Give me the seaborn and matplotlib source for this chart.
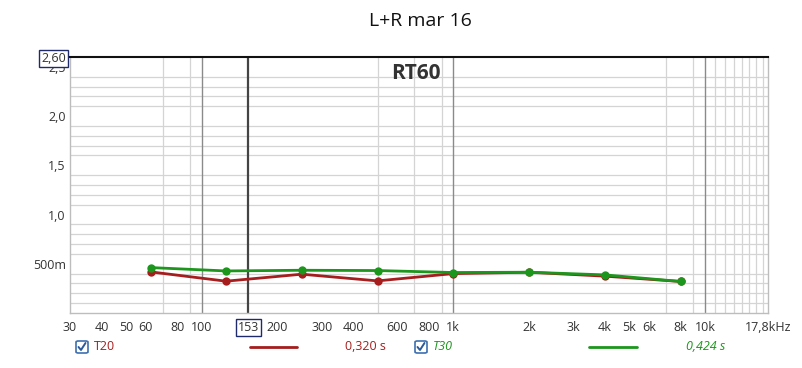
import matplotlib
matplotlib.use("Agg")
import matplotlib.pyplot as plt
from matplotlib.ticker import FixedLocator, NullFormatter
from matplotlib.lines import Line2D
from matplotlib.patches import FancyBboxPatch
import seaborn as sns
import pandas as pd
import numpy as np

# ---- data ----
freqs = [63, 125, 250, 500, 1000, 2000, 4000, 8000]
t20 = [0.417, 0.323, 0.394, 0.326, 0.400, 0.414, 0.374, 0.320]
t30 = [0.461, 0.427, 0.434, 0.431, 0.411, 0.414, 0.387, 0.320]
series_names = ["T20", "T30"]
series_colors = ["#a51d1d", "#1c961c"]
xtick_vals = [30, 40, 50, 60, 80, 100, 153, 200, 300, 400, 600, 800, 1000,
              2000, 3000, 4000, 5000, 6000, 8000, 10000, 17800]
xtick_labels = ["30", "40", "50", "60", "80", "100", "153", "200", "300", "400",
                "600", "800", "1k", "2k", "3k", "4k", "5k", "6k", "8k", "10k", "17,8kHz"]
ytick_vals = [0.5, 1.0, 1.5, 2.0, 2.5, 2.6]
ytick_labels = ["500m", "1,0", "1,5", "2,0", "2,5", "2,60"]
cursor_freq = 153
legend_values = ["0,320 s", "0,424 s"]

df = pd.DataFrame({
    "freq": freqs * 2,
    "rt": t20 + t30,
    "series": ["T20"] * len(freqs) + ["T30"] * len(freqs),
})

sns.set_theme(style="white")
plt.rcParams["font.family"] = ["Open Sans", "DejaVu Sans"]

fig = plt.figure(figsize=(8.03, 3.68), dpi=100)
ax = fig.add_axes([0.0872, 0.1495, 0.8692, 0.6956])

# grid lines positions
grid_x = []
for dec in [10, 100, 1000, 10000]:
    for m in range(1, 10):
        v = dec * m
        if 30 <= v <= 17800:
            grid_x.append(v)
grid_x += [11000, 12000, 13000, 14000, 15000, 16000, 17000]
grid_y = [round(0.1 * i, 1) for i in range(1, 26)]

ax.set_xscale("log")
ax.set_xlim(30, 17800)
ax.set_ylim(0, 2.6)
ax.xaxis.set_minor_locator(FixedLocator(grid_x))
ax.xaxis.set_minor_formatter(NullFormatter())
ax.yaxis.set_minor_locator(FixedLocator(grid_y))
ax.grid(which="minor", color="#d4d4d4", lw=0.9)
ax.grid(which="major", visible=False)
for v in [100, 1000, 10000]:
    ax.axvline(v, color="#8a8a8a", lw=1.0, zorder=1)

sns.lineplot(data=df, x="freq", y="rt", hue="series", palette=series_colors,
             marker="o", markersize=6, markeredgewidth=0, lw=2, ax=ax,
             legend=False, zorder=3)

ax.axvline(cursor_freq, color="#444444", lw=1.6, zorder=2)

ax.set_xticks(xtick_vals)
ax.set_xticklabels(xtick_labels)
ax.set_yticks(ytick_vals)
ax.set_yticklabels(ytick_labels)
ax.tick_params(which="both", length=0, labelsize=9, labelcolor="#333333")
ax.tick_params(axis="x", pad=6)
ax.tick_params(axis="y", pad=3)
ax.set_xlabel("")
ax.set_ylabel("")

for lab in ax.get_xticklabels():
    if lab.get_text() == "153":
        lab.set_bbox(dict(boxstyle="square,pad=0.15", fc="white", ec="#1f2a6b", lw=1))
for lab in ax.get_yticklabels():
    if lab.get_text() == "2,60":
        lab.set_bbox(dict(boxstyle="square,pad=0.15", fc="white", ec="#1f2a6b", lw=1))
        lab.set_zorder(10)

for s in ["left", "right", "bottom"]:
    ax.spines[s].set_color("#bdbdbd")
    ax.spines[s].set_linewidth(1)
ax.spines["top"].set_color("#111111")
ax.spines["top"].set_linewidth(1.5)

ax.text(0.496, 0.935, "RT60", transform=ax.transAxes, ha="center", va="center",
        fontsize=15, fontweight="bold", color="#333333")

fig.text(0.523, 0.944, "L+R mar 16", ha="center", va="center", fontsize=14, color="#111111")

# legend row
ly = 1 - 347 / 368
W, H = 803, 368

def checkbox(cx):
    w, h = 12 / W, 12 / H
    fig.patches.append(FancyBboxPatch((cx / W - w / 2, ly - h / 2), w, h,
                                      boxstyle="round,pad=0,rounding_size=0.003",
                                      transform=fig.transFigure, fc="white",
                                      ec="#3d6fb0", lw=1.2))
    fig.lines.append(Line2D([(cx - 3.5) / W, (cx - 1) / W, (cx + 3.5) / W],
                            [ly, ly - 3 / H, ly + 4 / H],
                            transform=fig.transFigure, color="#2a5a9a", lw=1.4))

checkbox(82)
fig.text(94 / W, ly, "T20", color=series_colors[0], fontsize=9, va="center")
fig.lines.append(Line2D([250 / W, 297 / W], [ly, ly], transform=fig.transFigure,
                        color=series_colors[0], lw=2))
fig.text(345 / W, ly, legend_values[0], color=series_colors[0], fontsize=9, va="center")
checkbox(421)
fig.text(433 / W, ly, "T30", color=series_colors[1], fontsize=9, va="center", style="italic")
fig.lines.append(Line2D([589 / W, 637 / W], [ly, ly], transform=fig.transFigure,
                        color=series_colors[1], lw=2))
fig.text(686 / W, ly, legend_values[1], color=series_colors[1], fontsize=9, va="center",
         style="italic")

fig.savefig("out.png", dpi=100, facecolor="white")
